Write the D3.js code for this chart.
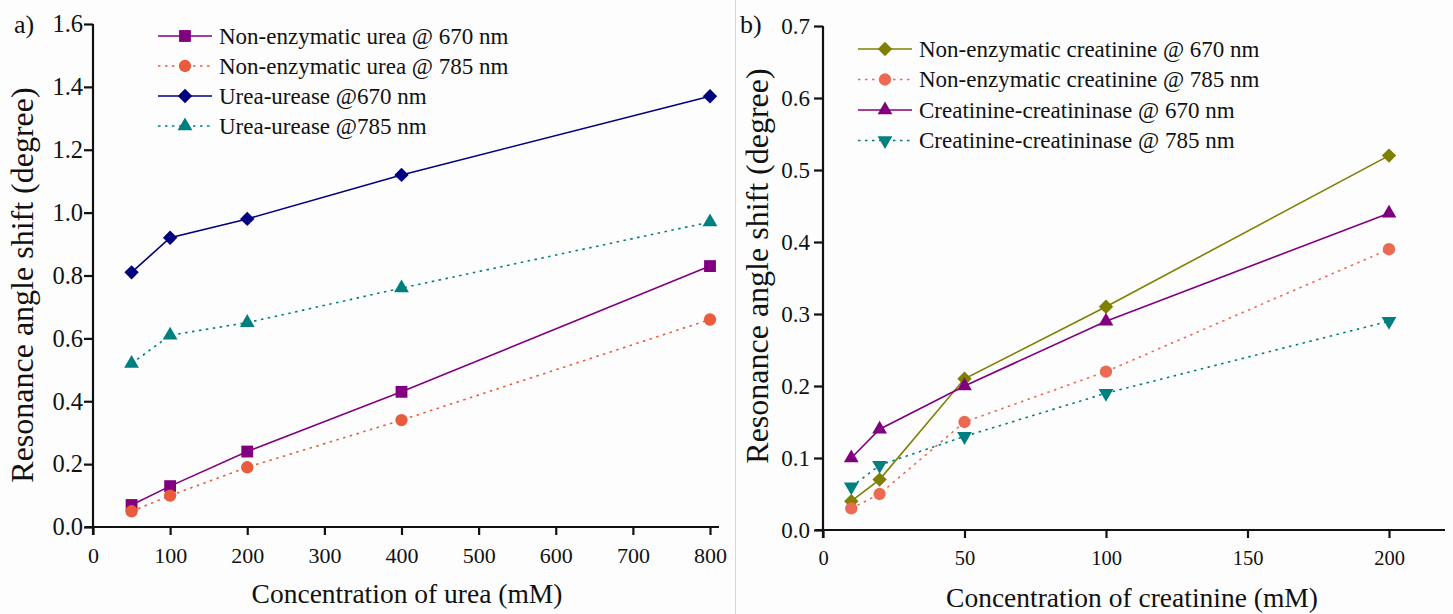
<!DOCTYPE html>
<html><head><meta charset="utf-8">
<script src="https://cdn.jsdelivr.net/npm/d3@7"></script>
<style>body{margin:0;background:#fdfdfd}svg{display:block}text{font-family:"Liberation Serif","Times New Roman",serif;fill:#111}</style>
</head><body><svg id="c" width="1453" height="614"></svg>
<script>
// Panel a) urea
const ureaX = [50, 100, 200, 400, 800];
const ureaNonEnz670 = [0.07, 0.13, 0.24, 0.43, 0.83];
const ureaNonEnz785 = [0.05, 0.10, 0.19, 0.34, 0.66];
const ureaUrease670 = [0.81, 0.92, 0.98, 1.12, 1.37];
const ureaUrease785 = [0.52, 0.61, 0.65, 0.76, 0.97];
const ureaXTicks = [0,100,200,300,400,500,600,700,800];
const ureaYTicks = [0,0.2,0.4,0.6,0.8,1.0,1.2,1.4,1.6];
// Panel b) creatinine
const creaX = [10, 20, 50, 100, 200];
const creaNonEnz670 = [0.04, 0.07, 0.21, 0.31, 0.52];
const creaNonEnz785 = [0.03, 0.05, 0.15, 0.22, 0.39];
const creaEnz670 = [0.10, 0.14, 0.20, 0.29, 0.44];
const creaEnz785 = [0.06, 0.09, 0.13, 0.19, 0.29];
const creaXTicks = [0,50,100,150,200];
const creaYTicks = [0,0.1,0.2,0.3,0.4,0.5,0.6,0.7];

const svg = d3.select("#c");
svg.append("rect").attr("width",1453).attr("height",614).attr("fill","#fdfdfd");
svg.append("line").attr("x1",735.5).attr("x2",735.5).attr("y1",0).attr("y2",614).attr("stroke","#d6d6d6").attr("stroke-width",1);

function markerPath(type){
  switch(type){
    case "square": return d3.symbol().type(d3.symbolSquare).size(140)();
    case "circle": return d3.symbol().type(d3.symbolCircle).size(120)();
    case "diamond": { const r = 7.2; return `M0,${-r}L${r},0L0,${r}L${-r},0Z`; }
    case "triangle":
    case "triangleDown": return d3.symbol().type(d3.symbolTriangle).size(95)();
  }
}

function panel(cfg){
  const g = svg.append("g");
  const x = d3.scaleLinear().domain(cfg.xDomain).range(cfg.xRange);
  const y = d3.scaleLinear().domain(cfg.yDomain).range(cfg.yRange);
  const xa = g.append("g").attr("transform",`translate(0,${cfg.yRange[0]})`)
    .call(d3.axisBottom(x).tickValues(cfg.xTicks).tickSize(8).tickSizeOuter(0).tickFormat(d3.format("d")));
  xa.select(".domain").attr("d",`M${cfg.xRange[0]-8},0H${cfg.xAxisEnd}`);
  const ya = g.append("g").attr("transform",`translate(${cfg.xRange[0]},0)`)
    .call(d3.axisLeft(y).tickValues(cfg.yTicks).tickSize(9).tickSizeOuter(0).tickFormat(d3.format(".1f")));
  ya.select(".domain").attr("d",`M0,${cfg.yRange[1]}V${cfg.yRange[0]+8}`);
  xa.attr("font-family",null).attr("font-size",null); ya.attr("font-family",null).attr("font-size",null);
  g.selectAll(".domain").attr("stroke","#111").attr("stroke-width",2.2);
  g.selectAll(".tick line").attr("stroke","#111").attr("stroke-width",2.2);
  xa.selectAll(".tick text").attr("font-size",cfg.xTickFont).attr("dy","0.71em").attr("y",20);
  ya.selectAll(".tick text").attr("font-size",cfg.yTickFont).attr("x",cfg.yLabelX);
  g.selectAll(".tick text").attr("fill","#111");

  cfg.series.forEach(s=>{
    const pts = cfg.xs.map((v,i)=>[x(v), y(s.values[i])]);
    g.append("path").attr("d",d3.line()(pts)).attr("fill","none").attr("stroke",s.color)
      .attr("stroke-width",1.6).attr("stroke-dasharray",s.dash?"2.5,4.5":null);
    g.selectAll(null).data(pts).enter().append("path")
      .attr("d",markerPath(s.marker))
      .attr("transform",d=>`translate(${d[0]},${d[1]})${s.marker==="triangleDown"?" rotate(180)":""}`)
      .attr("fill",s.color);
  });

  // legend
  const lg = g.append("g");
  cfg.series.forEach((s,i)=>{
    const yy = cfg.legY + i*cfg.legDy;
    const x0 = cfg.legX;
    lg.append("line").attr("x1",x0).attr("x2",x0+54).attr("y1",yy).attr("y2",yy)
      .attr("stroke",s.color).attr("stroke-width",1.6).attr("stroke-dasharray",s.dash?"2.5,4.5":null);
    lg.append("path").attr("d",markerPath(s.marker))
      .attr("transform",`translate(${x0+27},${yy})${s.marker==="triangleDown"?" rotate(180)":""}`).attr("fill",s.color);
    lg.append("text").attr("x",x0+61).attr("y",yy).attr("dy","0.33em").attr("font-size",23).text(s.name);
  });

  g.append("text").attr("x",cfg.tag[0]).attr("y",cfg.tag[1]).attr("font-size",26).text(cfg.tagText);
  g.append("text").attr("text-anchor","middle").attr("x",cfg.xtX).attr("y",cfg.xtY)
    .attr("font-size",27.5).text(cfg.xTitle);
  g.append("text").attr("text-anchor","middle").attr("transform",`translate(${cfg.ytX},${cfg.ytY}) rotate(-90)`)
    .attr("font-size",32).text(cfg.yTitle);
}

panel({
  xDomain:[0,800], xRange:[93,710], xAxisEnd:719, yDomain:[0,1.6], yRange:[527,24],
  xTicks:ureaXTicks, yTicks:ureaYTicks, xs:ureaX, xTickFont:22, yTickFont:24.5, yLabelX:-10,
  series:[
    {name:"Non-enzymatic urea @ 670 nm", values:ureaNonEnz670, color:"#800080", marker:"square", dash:false},
    {name:"Non-enzymatic urea @ 785 nm", values:ureaNonEnz785, color:"#ea5a3c", marker:"circle", dash:true},
    {name:"Urea-urease @670 nm", values:ureaUrease670, color:"#00007f", marker:"diamond", dash:false},
    {name:"Urea-urease @785 nm", values:ureaUrease785, color:"#007f7f", marker:"triangle", dash:true}
  ],
  legX:158, legY:36, legDy:30,
  tag:[14,33], tagText:"a)",
  xTitle:"Concentration of urea (mM)", xtX:407, xtY:603,
  yTitle:"Resonance angle shift (degree)", ytX:33, ytY:285
});

panel({
  xDomain:[0,200], xRange:[823,1389], xAxisEnd:1445, yDomain:[0,0.7], yRange:[530,26],
  xTicks:creaXTicks, yTicks:creaYTicks, xs:creaX, xTickFont:20.5, yTickFont:23, yLabelX:-13,
  series:[
    {name:"Non-enzymatic creatinine @ 670 nm", values:creaNonEnz670, color:"#7f7f00", marker:"diamond", dash:false},
    {name:"Non-enzymatic creatinine @ 785 nm", values:creaNonEnz785, color:"#ec6a52", marker:"circle", dash:true},
    {name:"Creatinine-creatininase @ 670 nm", values:creaEnz670, color:"#800080", marker:"triangle", dash:false},
    {name:"Creatinine-creatininase @ 785 nm", values:creaEnz785, color:"#007f7f", marker:"triangleDown", dash:true}
  ],
  legX:858, legY:49, legDy:30.5,
  tag:[740,33], tagText:"b)",
  xTitle:"Concentration of creatinine (mM)", xtX:1132, xtY:607,
  yTitle:"Resonance angle shift (degree)", ytX:768, ytY:266
});
</script></body></html>
